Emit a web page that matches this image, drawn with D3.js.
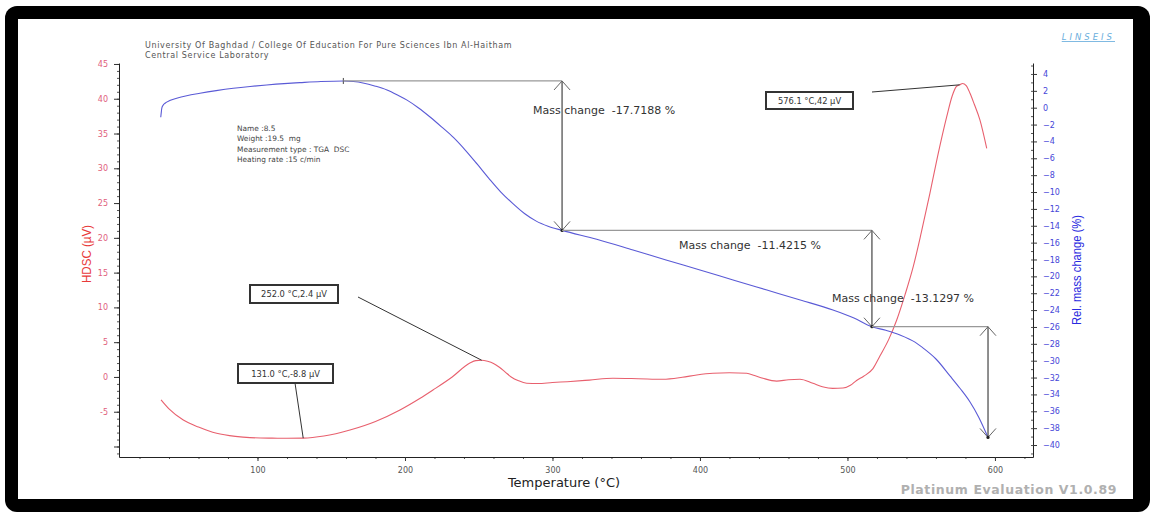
<!DOCTYPE html>
<html><head><meta charset="utf-8">
<script src="https://cdn.jsdelivr.net/npm/d3@7"></script>
<style>body{margin:0;background:#fff}svg{display:block}text{white-space:pre}</style>
</head><body>
<svg id="c" width="1150" height="512"></svg>
<script>
// ---- data ----
const dscT = [34.6,40,49.7,60,72.3,85,94.9,110,120,131.0,145,162.7,180,196.6,210,219,232,244,248,252,256,260,264,268,272,277,282.5,290,300,310,325,341,358,374.9,388,397.8,408.8,420,431.7,437,442.7,452,460,467.8,476.6,483,490,497,502,506.2,511,517.3,522,528,533.4,539,544.6,550,555.9,561,567.3,571,574,576.1,578,580.5,583.1,586,589.8,594.4];
const dscV = [-3.3,-4.6,-6.2,-7.2,-8.1,-8.55,-8.73,-8.8,-8.82,-8.8,-8.5,-7.63,-6.4,-4.75,-3.1,-1.87,0.0,2.0,2.35,2.4,2.25,1.95,1.4,0.7,0.0,-0.55,-0.9,-0.95,-0.8,-0.68,-0.45,-0.19,-0.25,-0.33,-0.05,0.28,0.53,0.6,0.53,0.2,-0.19,-0.6,-0.4,-0.33,-0.91,-1.4,-1.65,-1.6,-1.2,-0.5,0.1,1.2,3.0,5.4,8.19,11.8,15.85,20.7,26.41,31.6,37.42,40.4,41.8,42.0,42.2,41.9,40.79,39.2,36.95,32.88];
const tgaT = [34.4,34.8,35.1,36,37.3,40.5,45.2,52,61.0,72,83.6,95,106.2,118,128.8,143,158.2,165,171.5,180,187.8,195,201.4,209,217,225,233,241,249,257,265,273,281,289,297,306.5,330,354.6,377,400,423,445.4,468,490.2,504,516.6,526,535.6,545.8,552,560,569.5,576.4,583.1,589,595.3];
const tgaM = [-1.14,-0.5,-0.07,0.3,0.53,0.85,1.12,1.42,1.71,2.02,2.30,2.52,2.70,2.86,2.97,3.10,3.17,3.10,2.93,2.55,2.10,1.50,0.90,0.00,-1.10,-2.30,-3.55,-5.05,-6.70,-8.40,-10.00,-11.35,-12.55,-13.45,-14.05,-14.55,-15.6,-16.87,-18.05,-19.24,-20.45,-21.62,-22.8,-23.99,-24.9,-25.97,-26.4,-26.95,-27.8,-28.6,-29.8,-31.8,-33.3,-34.9,-36.7,-39.10];
const stepT = [158.2, 306.5, 516.6, 595.3];
const stepM = [3.17, -14.55, -25.97, -39.10];
const stepLabels = ["Mass change  -17.7188 %", "Mass change  -11.4215 %", "Mass change  -13.1297 %"];
const peakT = [131.0, 252.0, 576.1];
const peakV = [-8.8, 2.4, 42];
const peakLabels = ["131.0 °C,-8.8 µV", "252.0 °C,2.4 µV", "576.1 °C,42 µV"];
const xTicks = [100, 200, 300, 400, 500, 600];
const leftTicks = [-10, -5, 0, 5, 10, 15, 20, 25, 30, 35, 40, 45];
const rightTicks = [4,2,0,-2,-4,-6,-8,-10,-12,-14,-16,-18,-20,-22,-24,-26,-28,-30,-32,-34,-36,-38,-40];
const headerLines = ["University Of Baghdad / College Of Education For Pure Sciences Ibn Al-Haitham", "Central Service Laboratory"];
const infoLines = ["Name :8.5", "Weight :19.5  mg", "Measurement type : TGA  DSC", "Heating rate :15 c/min"];

// ---- layout ----
const svg = d3.select("#c");
const F = "DejaVu Sans, Verdana, sans-serif";
const N = "'Liberation Sans Narrow', 'Arial Narrow', 'Liberation Sans', sans-serif";
svg.append("rect").attr("x",5).attr("y",6).attr("width",1145).attr("height",506).attr("rx",12).attr("fill","#000");
svg.append("rect").attr("x",18).attr("y",19).attr("width",1115).attr("height",480).attr("fill","#fff");

const x = d3.scaleLinear().domain([6.1, 625.8]).range([119, 1033]);
const yL = d3.scaleLinear().domain([-11.51, 45.14]).range([457, 63]);
const yR = d3.scaleLinear().domain([-41.42, 5.3]).range([457, 63]);

function styleAxis(g, col, fs){
  g.selectAll("path.domain").attr("stroke","#222").attr("stroke-width",1);
  g.selectAll(".tick line").attr("stroke","#333");
  g.selectAll(".tick text").attr("fill",col).attr("font-family",F).attr("font-size",fs);
}
// left
svg.append("g").attr("transform","translate(119,0)")
  .call(d3.axisLeft(yL).tickValues(d3.range(-11,46,1)).tickSize(2).tickFormat(""))
  .call(g=>{g.select(".domain").remove(); g.selectAll(".tick line").attr("stroke","#555");});
svg.append("g").attr("transform","translate(119,0)")
  .call(d3.axisLeft(yL).tickValues(leftTicks).tickSize(5).tickPadding(6).tickFormat(d=>d===-10?"":d).tickSizeOuter(0))
  .call(g=>styleAxis(g,"#e0607c",8));
// right
svg.append("g").attr("transform","translate(1033,0)")
  .call(d3.axisLeft(yR).tickValues(d3.range(-41,6,1)).tickSize(2).tickFormat(""))
  .call(g=>{g.select(".domain").remove(); g.selectAll(".tick line").attr("stroke","#555");});
svg.append("g").attr("transform","translate(1033,0)")
  .call(d3.axisRight(yR).tickValues(rightTicks).tickSize(4).tickPadding(6).tickSizeOuter(0))
  .call(g=>styleAxis(g,"#4646d8",8));
// bottom
svg.append("g").attr("transform","translate(0,457)")
  .call(d3.axisBottom(x).tickValues(d3.range(20,621,20)).tickSize(2).tickFormat(""))
  .call(g=>{g.select(".domain").remove(); g.selectAll(".tick line").attr("stroke","#555");});
svg.append("g").attr("transform","translate(0,457)")
  .call(d3.axisBottom(x).tickValues(xTicks).tickSize(4).tickPadding(6).tickSizeOuter(0))
  .call(g=>styleAxis(g,"#555",8));

// titles
svg.append("text").attr("transform","translate(91,254) rotate(-90)").attr("text-anchor","middle")
  .attr("font-family",N).attr("font-size",13).attr("fill","#e83a3a")
  .attr("textLength",58).attr("lengthAdjust","spacingAndGlyphs").text("HDSC (µV)");
svg.append("text").attr("transform","translate(1081,270) rotate(-90)").attr("text-anchor","middle")
  .attr("font-family",N).attr("font-size",13).attr("fill","#2a2ae0")
  .attr("textLength",110).attr("lengthAdjust","spacingAndGlyphs").text("Rel. mass change (%)");
svg.append("text").attr("x",564).attr("y",487).attr("text-anchor","middle")
  .attr("font-family",F).attr("font-size",13).attr("fill","#222").text("Temperature (°C)");
svg.append("text").attr("x",1117).attr("y",494).attr("text-anchor","end")
  .attr("font-family",F).attr("font-size",12.5).attr("font-weight","bold").attr("letter-spacing",0.6)
  .attr("fill","#b0b0b0").text("Platinum Evaluation V1.0.89");
svg.append("text").attr("x",1115).attr("y",40).attr("text-anchor","end")
  .attr("font-family",F).attr("font-size",8.5).attr("font-style","italic").attr("letter-spacing",3)
  .attr("fill","#6aaedd").attr("text-decoration","underline").text("LINSEIS");
svg.selectAll("text.hdr").data(headerLines).join("text").attr("class","hdr")
  .attr("x",145).attr("y",(d,i)=>48+i*9.5).attr("font-family",F).attr("font-size",8).attr("letter-spacing",0.65)
  .attr("fill","#555").text(d=>d);
svg.selectAll("text.info").data(infoLines).join("text").attr("class","info")
  .attr("x",237).attr("y",(d,i)=>131+i*10.3).attr("font-family",F).attr("font-size",7.4).attr("fill","#444").text(d=>d);

// curves
const dsc = dscT.map((t,i)=>[t,dscV[i]]);
const tga = tgaT.map((t,i)=>[t,tgaM[i]]);
svg.append("path").datum(dsc).attr("fill","none").attr("stroke","#e8606e").attr("stroke-width",1.1)
  .attr("d", d3.line().x(d=>x(d[0])).y(d=>yL(d[1])).curve(d3.curveMonotoneX));
svg.append("path").datum(tga).attr("fill","none").attr("stroke","#5a5ad6").attr("stroke-width",1.1)
  .attr("d", d3.line().x(d=>x(d[0])).y(d=>yR(d[1])).curve(d3.curveMonotoneX));

// mass change steps
const labelOff = [[-29,33],[-193,19],[-156,-25]];
svg.append("line").attr("x1",x(stepT[0])).attr("x2",x(stepT[0])).attr("y1",yR(stepM[0])-3).attr("y2",yR(stepM[0])+3).attr("stroke","#444");
for (let i=0;i<3;i++){
  const x0 = x(stepT[i]), x1 = x(stepT[i+1]), yt = yR(stepM[i]), yb = yR(stepM[i+1]);
  svg.append("line").attr("x1",x0).attr("x2",x1).attr("y1",yt).attr("y2",yt).attr("stroke","#999").attr("stroke-width",1.2);
  svg.append("line").attr("x1",x1).attr("x2",x1).attr("y1",yt).attr("y2",yb).attr("stroke","#333").attr("stroke-width",1.1);
  svg.append("path").attr("d",`M${x1-8},${yt+9}L${x1},${yt}L${x1+8},${yt+9}`).attr("fill","none").attr("stroke","#666");
  svg.append("path").attr("d",`M${x1-8},${yb-9}L${x1},${yb}L${x1+8},${yb-9}`).attr("fill","none").attr("stroke","#666");
  svg.append("circle").attr("cx",x1).attr("cy",yb).attr("r",1.6).attr("fill","#222");
  svg.append("text").attr("x",x1+labelOff[i][0]).attr("y",yt+labelOff[i][1])
    .attr("font-family",F).attr("font-size",11).attr("fill","#333").text(stepLabels[i]);
}

// peak annotations
const boxes = [{bx:238,by:364,bw:95,bh:19,lx:295,ly:383},{bx:250,by:285,bw:88,bh:18,lx:358,ly:297},{bx:766,by:92,bw:87,bh:17,lx:872,ly:92}];
boxes.forEach((b,i)=>{
  svg.append("line").attr("x1",b.lx).attr("y1",b.ly).attr("x2",x(peakT[i])).attr("y2",yL(peakV[i])).attr("stroke","#333").attr("stroke-width",1);
  svg.append("rect").attr("x",b.bx).attr("y",b.by).attr("width",b.bw).attr("height",b.bh).attr("fill","#fff").attr("stroke","#333").attr("stroke-width",2);
  svg.append("text").attr("x",b.bx+b.bw/2).attr("y",b.by+b.bh/2+3).attr("text-anchor","middle")
    .attr("font-family",F).attr("font-size",8.3).attr("fill","#333").text(peakLabels[i]);
});
</script>
</body></html>
